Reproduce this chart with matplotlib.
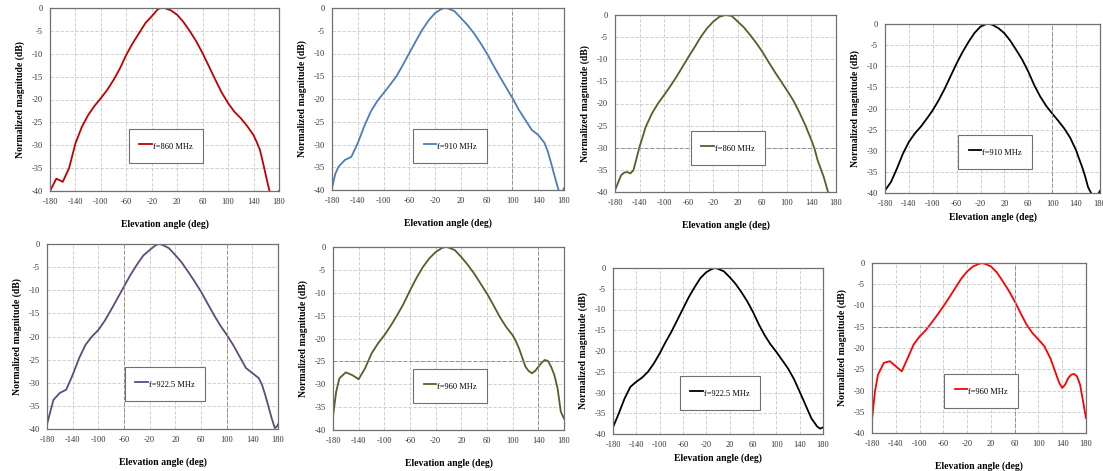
import matplotlib
matplotlib.use('Agg')
import matplotlib.pyplot as plt

plt.rcParams['font.family'] = ['Liberation Serif', 'DejaVu Serif']
plt.rcParams['axes.unicode_minus'] = False

# angles (deg) and normalized magnitudes (dB)
ang1 = [-180, -170, -160, -150, -140, -130, -120, -110, -100, -90, -80, -70, -60, -50, -40, -30, -20, -10, -5, 0,
        10, 20, 30, 40, 50, 60, 70, 80, 90, 100, 110, 120, 130, 140, 145, 150, 155, 160, 165, 170, 180]
mag1 = [-40, -37.3, -38, -35, -29.6, -26, -23.4, -21.4, -19.7, -17.9, -15.7, -13.2, -10.2, -7.7, -5.5, -3.3, -1.8, -0.2, 0, 0,
        -0.5, -1.5, -3.1, -5.1, -7.3, -9.9, -12.8, -15.7, -18.5, -20.8, -22.7, -24.1, -25.8, -27.8, -29.3, -31, -33.9, -37, -40, -46, -40]

ang2 = [-180, -175, -170, -160, -150, -140, -130, -120, -110, -100, -90, -80, -70, -60, -50, -40, -30, -20, -10, -5, 0,
        10, 20, 30, 40, 50, 60, 70, 80, 90, 100, 110, 120, 130, 140, 150, 155, 160, 165, 170, 174, 178, 180]
mag2 = [-39.6, -36.5, -34.9, -33.4, -32.7, -29.7, -26, -22.8, -20.5, -18.7, -16.9, -15, -12.5, -9.9, -7.3, -4.8, -2.7, -1.1, -0.2, 0, -0.1,
        -0.7, -2.2, -3.7, -5.5, -7.6, -9.9, -12.5, -15, -17.4, -19.8, -22.4, -24.6, -26.8, -27.9, -29.7, -31.6, -34.1, -36.7, -39.3, -41, -40.3, -39.6]

ang3 = [-180, -170, -165, -160, -155, -150, -140, -130, -120, -110, -100, -90, -80, -70, -60, -50, -40, -30, -20, -10, 0,
        10, 20, 30, 40, 50, 60, 70, 80, 90, 100, 110, 120, 130, 140, 145, 150, 155, 160, 167, 172]
mag3 = [-39.6, -36.2, -35.6, -35.5, -35.8, -35.1, -29.8, -25.3, -22.3, -20, -18.1, -16.1, -14, -11.7, -9.4, -7.2, -4.9, -3, -1.5, -0.4, 0,
        -0.2, -1.5, -2.8, -4.5, -6.3, -8.3, -10.6, -12.8, -14.9, -17, -19.2, -21.9, -24.9, -28.3, -30.2, -32.8, -34.7, -36.6, -40, -45]

ang4 = [-180, -170, -160, -150, -140, -130, -120, -110, -100, -90, -80, -70, -60, -50, -40, -30, -20, -10, -5, 0,
        10, 20, 30, 40, 50, 60, 70, 80, 90, 100, 110, 120, 130, 140, 145, 150, 155, 160, 165, 170, 177, 180]
mag4 = [-39.4, -37.4, -34.2, -30.7, -27.9, -25.9, -24.3, -22.4, -20.4, -18, -15.3, -12.3, -9.3, -6.6, -4.2, -2.1, -0.6, 0, 0, -0.2,
        -1, -2.2, -4, -6.2, -8.5, -11.3, -14.5, -17.2, -19.4, -21.2, -22.9, -24.7, -26.9, -29.9, -31.9, -33.8, -36, -38.6, -40, -41, -40.2, -39.5]

ang5 = [-180, -170, -160, -150, -140, -130, -120, -110, -100, -90, -80, -70, -60, -50, -40, -30, -20, -10, -5, 0,
        10, 20, 30, 40, 50, 60, 70, 80, 90, 100, 110, 120, 130, 140, 150, 155, 160, 165, 170, 175, 178, 180]
mag5 = [-39, -33.7, -32.2, -31.5, -28.3, -24.7, -21.8, -20, -18.6, -16.6, -14.2, -11.7, -9.2, -6.7, -4.5, -2.5, -1.3, -0.2, 0, -0.2,
        -0.9, -2.4, -4, -6, -8.1, -10.3, -12.8, -15.3, -17.6, -19.6, -21.8, -24.3, -26.8, -27.9, -29, -30.4, -32.6, -35.1, -37.6, -39.8, -39.5, -39]

ang6 = [-180, -175, -170, -160, -150, -140, -130, -120, -110, -100, -90, -80, -70, -60, -50, -40, -30, -20, -10, -5, 0,
        10, 20, 30, 40, 50, 60, 70, 80, 90, 100, 105, 110, 115, 120, 125, 130, 135, 140, 145, 150, 155, 160, 165, 170, 175, 180]
mag6 = [-37, -31.6, -28.7, -27.4, -28, -28.9, -26.5, -23.3, -21.1, -19.3, -17.2, -14.9, -12.4, -9.5, -6.8, -4.4, -2.5, -1.1, -0.2, 0, -0.1,
        -0.7, -2.2, -3.9, -5.8, -8, -10.2, -12.7, -15.3, -17.5, -19.3, -20.6, -22.2, -24.2, -26.2, -27.1, -27.6, -27.1, -26.2, -25.3, -24.7, -24.9, -26.2, -28, -30.9, -36, -37.5]

ang7 = [-180, -170, -160, -150, -140, -130, -120, -110, -100, -90, -80, -70, -60, -50, -40, -30, -20, -10, -5, 0,
        10, 20, 30, 40, 50, 60, 70, 80, 90, 100, 110, 120, 130, 140, 150, 160, 170, 175, 180]
mag7 = [-38.4, -35, -31.4, -28.6, -27.4, -26.4, -25, -23, -20.6, -17.9, -15.4, -12.6, -9.8, -7, -4.6, -2.4, -1, -0.2, 0, -0.2,
        -0.8, -2.2, -3.8, -5.8, -8, -10.6, -13.6, -16.2, -18.4, -20.2, -22.2, -24.2, -26.7, -29.8, -33, -36.2, -38.2, -38.7, -38.4]

ang8 = [-180, -175, -170, -160, -150, -140, -130, -120, -110, -100, -90, -80, -70, -60, -50, -40, -30, -20, -10, 0, 5,
        10, 20, 30, 40, 50, 60, 70, 80, 90, 100, 110, 120, 125, 130, 135, 140, 145, 150, 155, 160, 165, 170, 175, 180]
mag8 = [-36.9, -30.2, -26.3, -23.5, -23.1, -24.3, -25.5, -22.4, -19.2, -17.3, -15.9, -14.1, -12.2, -10.2, -8.1, -5.9, -3.7, -2, -0.8, -0.2, 0,
        -0.2, -0.8, -2.2, -4.3, -6.5, -9, -11.8, -14.5, -16.5, -18, -19.6, -22.4, -24.3, -26.3, -28.2, -29.4, -28.6, -27.1, -26.3, -26.1, -26.7, -28.6, -32.5, -36.5]

labels = ['f=860 MHz', 'f=910 MHz', 'f=860 MHz', 'f=910 MHz',
          'f=922.5 MHz', 'f=960 MHz', 'f=922.5 MHz', 'f=960 MHz']
angles = [ang1, ang2, ang3, ang4, ang5, ang6, ang7, ang8]
mags = [mag1, mag2, mag3, mag4, mag5, mag6, mag7, mag8]
colors = ['#C00000', '#4A7EBB', '#4F6228', '#000000',
          '#604A7B', '#4F6228', '#000000', '#FF0000']

xticks = list(range(-180, 181, 40))
yticks = list(range(-40, 1, 5))

# panel boxes in pixels (left, top, right, bottom) - the panels are pasted images
W, H = 1103, 471
boxes = [(50, 8, 279, 191), (332, 8, 564, 190), (615, 15, 836, 192), (885, 24, 1100, 193),
         (47, 244, 278, 429), (333, 247, 564, 430), (613, 268, 823, 434), (872, 263, 1086, 433)]
# legend box centres in pixels
leg_pos = [(166, 146), (450, 146), (728, 148), (995, 152),
           (165, 384), (450, 386), (720, 393), (981, 391)]
# x label distance differs between the pasted images
xpad = [10, 10, 10, 3, 10, 10, 3, 10]
# a few grid lines came out darker in the original
dark_x = [[], [100], [], [100], [-60, 100], [140], [], [60]]
dark_y = [[], [], [-30], [], [], [-25], [], [-15]]

fig = plt.figure(figsize=(W / 100, H / 100), dpi=100)

for i in range(8):
    l, t, r, b = boxes[i]
    ax = fig.add_axes([l / W, 1 - b / H, (r - l) / W, (b - t) / H])
    ax.plot(angles[i], mags[i], color=colors[i], lw=1.3, label=labels[i])
    ax.set_xlim(-180, 180)
    ax.set_ylim(-40, 0)
    ax.set_xticks(xticks)
    ax.set_yticks(yticks)
    ax.tick_params(length=0, labelsize=6, pad=5, colors='#333333')
    ax.grid(True, ls=(0, (4, 2)), color='#C8C8C8', lw=0.6)
    for v in dark_x[i]:
        ax.axvline(v, ls=(0, (4, 2)), color='#909090', lw=0.7)
    for v in dark_y[i]:
        ax.axhline(v, ls=(0, (4, 2)), color='#909090', lw=0.7)
    for s in ax.spines.values():
        s.set_color('#707070')
        s.set_linewidth(0.9)
    ax.set_xlabel('Elevation angle (deg)', fontsize=7, fontweight='bold', labelpad=xpad[i])
    ax.set_ylabel('Normalized magnitude (dB)', fontsize=7, fontweight='bold', labelpad=5)
    cx, cy = leg_pos[i]
    leg = ax.legend(loc='center', bbox_to_anchor=(cx / W, 1 - cy / H),
                    bbox_transform=fig.transFigure, fontsize=6, fancybox=False,
                    framealpha=1, edgecolor='#707070', handlelength=1.5, handleheight=2.0,
                    handletextpad=0.1, borderpad=1.3, borderaxespad=0)
    leg.get_frame().set_linewidth(0.8)

fig.savefig('out.png', dpi=100)
